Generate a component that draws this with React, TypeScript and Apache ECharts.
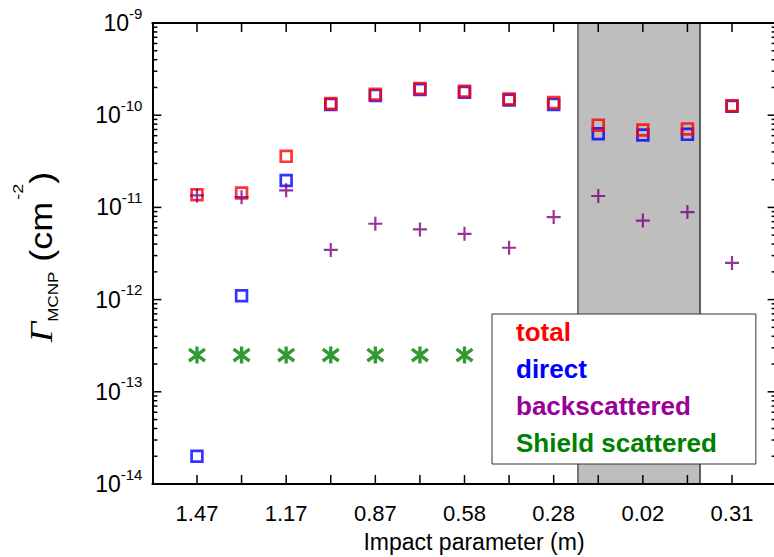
import React, { useEffect, useRef } from 'react';
import * as echarts from 'echarts';

// Impact parameter labels, shown on every second measurement position
const xTickLabels = ['1.47', '1.17', '0.87', '0.58', '0.28', '0.02', '0.31'];

// Fluence per position (cm^-2)
const totalFlux = [1.37e-11, 1.43e-11, 3.58e-11, 1.34e-10, 1.69e-10, 1.95e-10, 1.82e-10, 1.5e-10, 1.37e-10, 7.8e-11, 6.9e-11, 7.1e-11, 1.27e-10];
const directFlux = [2.0e-14, 1.1e-12, 1.96e-11, 1.31e-10, 1.64e-10, 1.9e-10, 1.77e-10, 1.46e-10, 1.31e-10, 6.3e-11, 6.1e-11, 6.2e-11, 1.25e-10];
const backscatteredFlux = [1.35e-11, 1.29e-11, 1.53e-11, 3.46e-12, 6.65e-12, 5.77e-12, 5.17e-12, 3.65e-12, 7.85e-12, 1.33e-11, 7.2e-12, 8.9e-12, 2.5e-12];
const shieldScatteredFlux = [2.5e-13, 2.5e-13, 2.5e-13, 2.5e-13, 2.5e-13, 2.5e-13, 2.5e-13];

// Shaded shield region along the position axis
const shadedBand = [8.54, 11.28];

// Axis ranges and tick layout
const xMin = -1;
const xMax = 13;
const measurementCount = 13;
const yMin = 1e-14;
const yMax = 1e-9;
const yDecades = [-14, -13, -12, -11, -10, -9];
const minorMultipliers = [2, 3, 4, 5, 6, 7, 8, 9];

const FONT = '"Liberation Sans", Arial, Helvetica, sans-serif';

const toPoints = (arr: number[]) => arr.map((v, i) => [i, v]);

// Tick items: [x, y, kind (0 = x tick, 1 = y tick), length]
const tickItems: number[][] = [];
for (let i = 0; i < measurementCount; i++) tickItems.push([i, yMin, 0, 9]);
yDecades.forEach((d) => {
  tickItems.push([xMin, Math.pow(10, d), 1, 9]);
  if (d < -9) minorMultipliers.forEach((m) => tickItems.push([xMin, m * Math.pow(10, d), 1, 5]));
});

const plusSymbol = 'path://M0,-10 L0,10 M-10,0 L10,0';
const starSymbol = 'path://M0,-10 L0,10 M-8,-7 L8,7 M-8,7 L8,-7';

export default function App() {
  const ref = useRef<HTMLDivElement>(null);

  useEffect(() => {
    if (!ref.current) return;
    const chart = echarts.init(ref.current, undefined, { renderer: 'svg' });

    const frameLine = { show: true, onZero: false, lineStyle: { color: '#000', width: 2 } };
    const baseX = {
      type: 'value' as const,
      min: xMin,
      max: xMax,
      interval: 1,
      z: 5,
      splitLine: { show: false },
      axisLine: frameLine,
      axisTick: { show: false },
    };
    const baseY = {
      type: 'log' as const,
      logBase: 10,
      min: yMin,
      max: yMax,
      z: 5,
      splitLine: { show: false },
      axisLine: frameLine,
      axisTick: { show: false },
    };

    const option: any = {
      animation: false,
      backgroundColor: '#fff',
      grid: { left: 152.4, top: 23, width: 624.2, height: 461, containLabel: false, outerBoundsMode: 'none' },
      xAxis: [
        {
          ...baseX,
          position: 'bottom',
          axisLabel: {
            show: true,
            margin: 18,
            fontSize: 22,
            color: '#000',
            fontFamily: FONT,
            formatter: (v: number) => (v >= 0 && v % 2 === 0 ? xTickLabels[v / 2] ?? '' : ''),
          },
        },
        { ...baseX, position: 'top', axisLabel: { show: false } },
      ],
      yAxis: [
        {
          ...baseY,
          position: 'left',
          axisLabel: {
            show: true,
            margin: 10,
            showMinLabel: true,
            showMaxLabel: true,
            formatter: (v: number) => `{a|10}{b|${Math.round(Math.log10(v))}}`,
            rich: {
              a: { fontSize: 23, fontFamily: FONT, color: '#000', lineHeight: 30 },
              b: { fontSize: 15, fontFamily: FONT, color: '#000', height: 10, verticalAlign: 'top' },
            },
          },
        },
        { ...baseY, position: 'right', axisLabel: { show: false } },
      ],
      legend: {
        orient: 'vertical',
        left: 492,
        top: 314,
        itemWidth: 0,
        itemHeight: 0,
        itemGap: 7,
        padding: [3, 39, 6, 18],
        backgroundColor: '#fff',
        borderColor: '#333',
        borderWidth: 1,
        selectedMode: false,
        itemStyle: { opacity: 0 },
        textStyle: { fontSize: 26, fontWeight: 'bold', fontFamily: FONT, lineHeight: 30 },
        data: [
          { name: 'total', textStyle: { color: '#ff0000' } },
          { name: 'direct', textStyle: { color: '#0000ff' } },
          { name: 'backscattered', textStyle: { color: '#990099' } },
          { name: 'Shield scattered', textStyle: { color: '#008000' } },
        ],
        z: 10,
      },
      series: [
        {
          // inward ticks on all four sides of the frame
          name: 'ticks',
          type: 'custom',
          xAxisIndex: 0,
          yAxisIndex: 0,
          silent: true,
          clip: false,
          z: 2,
          encode: { x: 0, y: 1 },
          data: tickItems,
          renderItem: (params: any, api: any) => {
            const cs = params.coordSys;
            const kind = api.value(2);
            const len = api.value(3);
            const p = api.coord([api.value(0), api.value(1)]);
            const style = { stroke: '#000', lineWidth: 1.5 };
            if (kind === 0) {
              const x = p[0];
              const yb = cs.y + cs.height;
              return {
                type: 'group',
                children: [
                  { type: 'line', shape: { x1: x, y1: yb, x2: x, y2: yb - len }, style },
                  { type: 'line', shape: { x1: x, y1: cs.y, x2: x, y2: cs.y + len }, style },
                ],
              };
            }
            const y = p[1];
            const xr = cs.x + cs.width;
            return {
              type: 'group',
              children: [
                { type: 'line', shape: { x1: cs.x, y1: y, x2: cs.x + len, y2: y }, style },
                { type: 'line', shape: { x1: xr, y1: y, x2: xr - len, y2: y }, style },
              ],
            };
          },
        },
        {
          name: 'direct',
          type: 'scatter',
          symbol: 'rect',
          symbolSize: 10.8,
          itemStyle: { color: 'rgba(0,0,0,0)', borderColor: '#0000ff', borderWidth: 2.7 },
          data: toPoints(directFlux),
          z: 2,
        },
        {
          name: 'total',
          type: 'scatter',
          symbol: 'rect',
          symbolSize: 10.8,
          itemStyle: { color: 'rgba(0,0,0,0)', borderColor: '#ff0000', borderWidth: 2.7 },
          data: toPoints(totalFlux),
          z: 2,
        },
        {
          name: 'backscattered',
          type: 'scatter',
          symbol: plusSymbol,
          symbolSize: 14,
          itemStyle: { color: '#800080', borderColor: '#800080', borderWidth: 2.2 },
          data: toPoints(backscatteredFlux),
          z: 2,
        },
        {
          name: 'Shield scattered',
          type: 'scatter',
          symbol: starSymbol,
          symbolSize: [16, 17],
          itemStyle: { color: '#008000', borderColor: '#008000', borderWidth: 3.4 },
          data: toPoints(shieldScatteredFlux),
          z: 2,
        },
        {
          name: 'band',
          type: 'scatter',
          data: [],
          silent: true,
          z: 3,
          markArea: {
            silent: true,
            itemStyle: { color: 'rgba(110,110,110,0.45)', borderWidth: 0 },
            data: [[{ xAxis: shadedBand[0] }, { xAxis: shadedBand[1] }]],
          },
          markLine: {
            silent: true,
            symbol: 'none',
            label: { show: false },
            data: [
              { xAxis: shadedBand[0], lineStyle: { color: '#777', width: 2, type: 'solid' } },
              { xAxis: shadedBand[1], lineStyle: { color: '#333', width: 1.5, type: 'solid' } },
            ],
          },
        },
      ],
      graphic: [
        {
          type: 'text',
          x: 474,
          y: 542,
          style: {
            text: 'Impact parameter (m)',
            fontSize: 23,
            fontFamily: FONT,
            fill: '#000',
            align: 'center',
            verticalAlign: 'middle',
          },
        },
        {
          type: 'text',
          x: 41.5,
          y: 257,
          rotation: Math.PI / 2,
          scaleY: 0.85,
          style: {
            text: '{g|Γ}{sub|MCNP}{p| (cm}{sup|-2}{p|)}',
            align: 'center',
            verticalAlign: 'middle',
            rich: {
              g: { fontSize: 36, fontFamily: '"Liberation Serif", "Times New Roman", serif', fontStyle: 'italic', fill: '#000', lineHeight: 64 },
              sub: { fontSize: 17, fontFamily: FONT, fill: '#000', height: 37.6, verticalAlign: 'bottom' },
              p: { fontSize: 36, fontFamily: FONT, fill: '#000', lineHeight: 64 },
              sup: { fontSize: 18, fontFamily: FONT, fill: '#000', height: 8, verticalAlign: 'top', padding: [0, 0, 0, 2] },
            },
          },
        },
      ],
    };

    chart.setOption(option);
    return () => chart.dispose();
  }, []);

  return (
    <div
      ref={ref}
      style={{ position: 'fixed', left: 0, top: 0, width: 774, height: 557, background: '#fff' }}
    />
  );
}
